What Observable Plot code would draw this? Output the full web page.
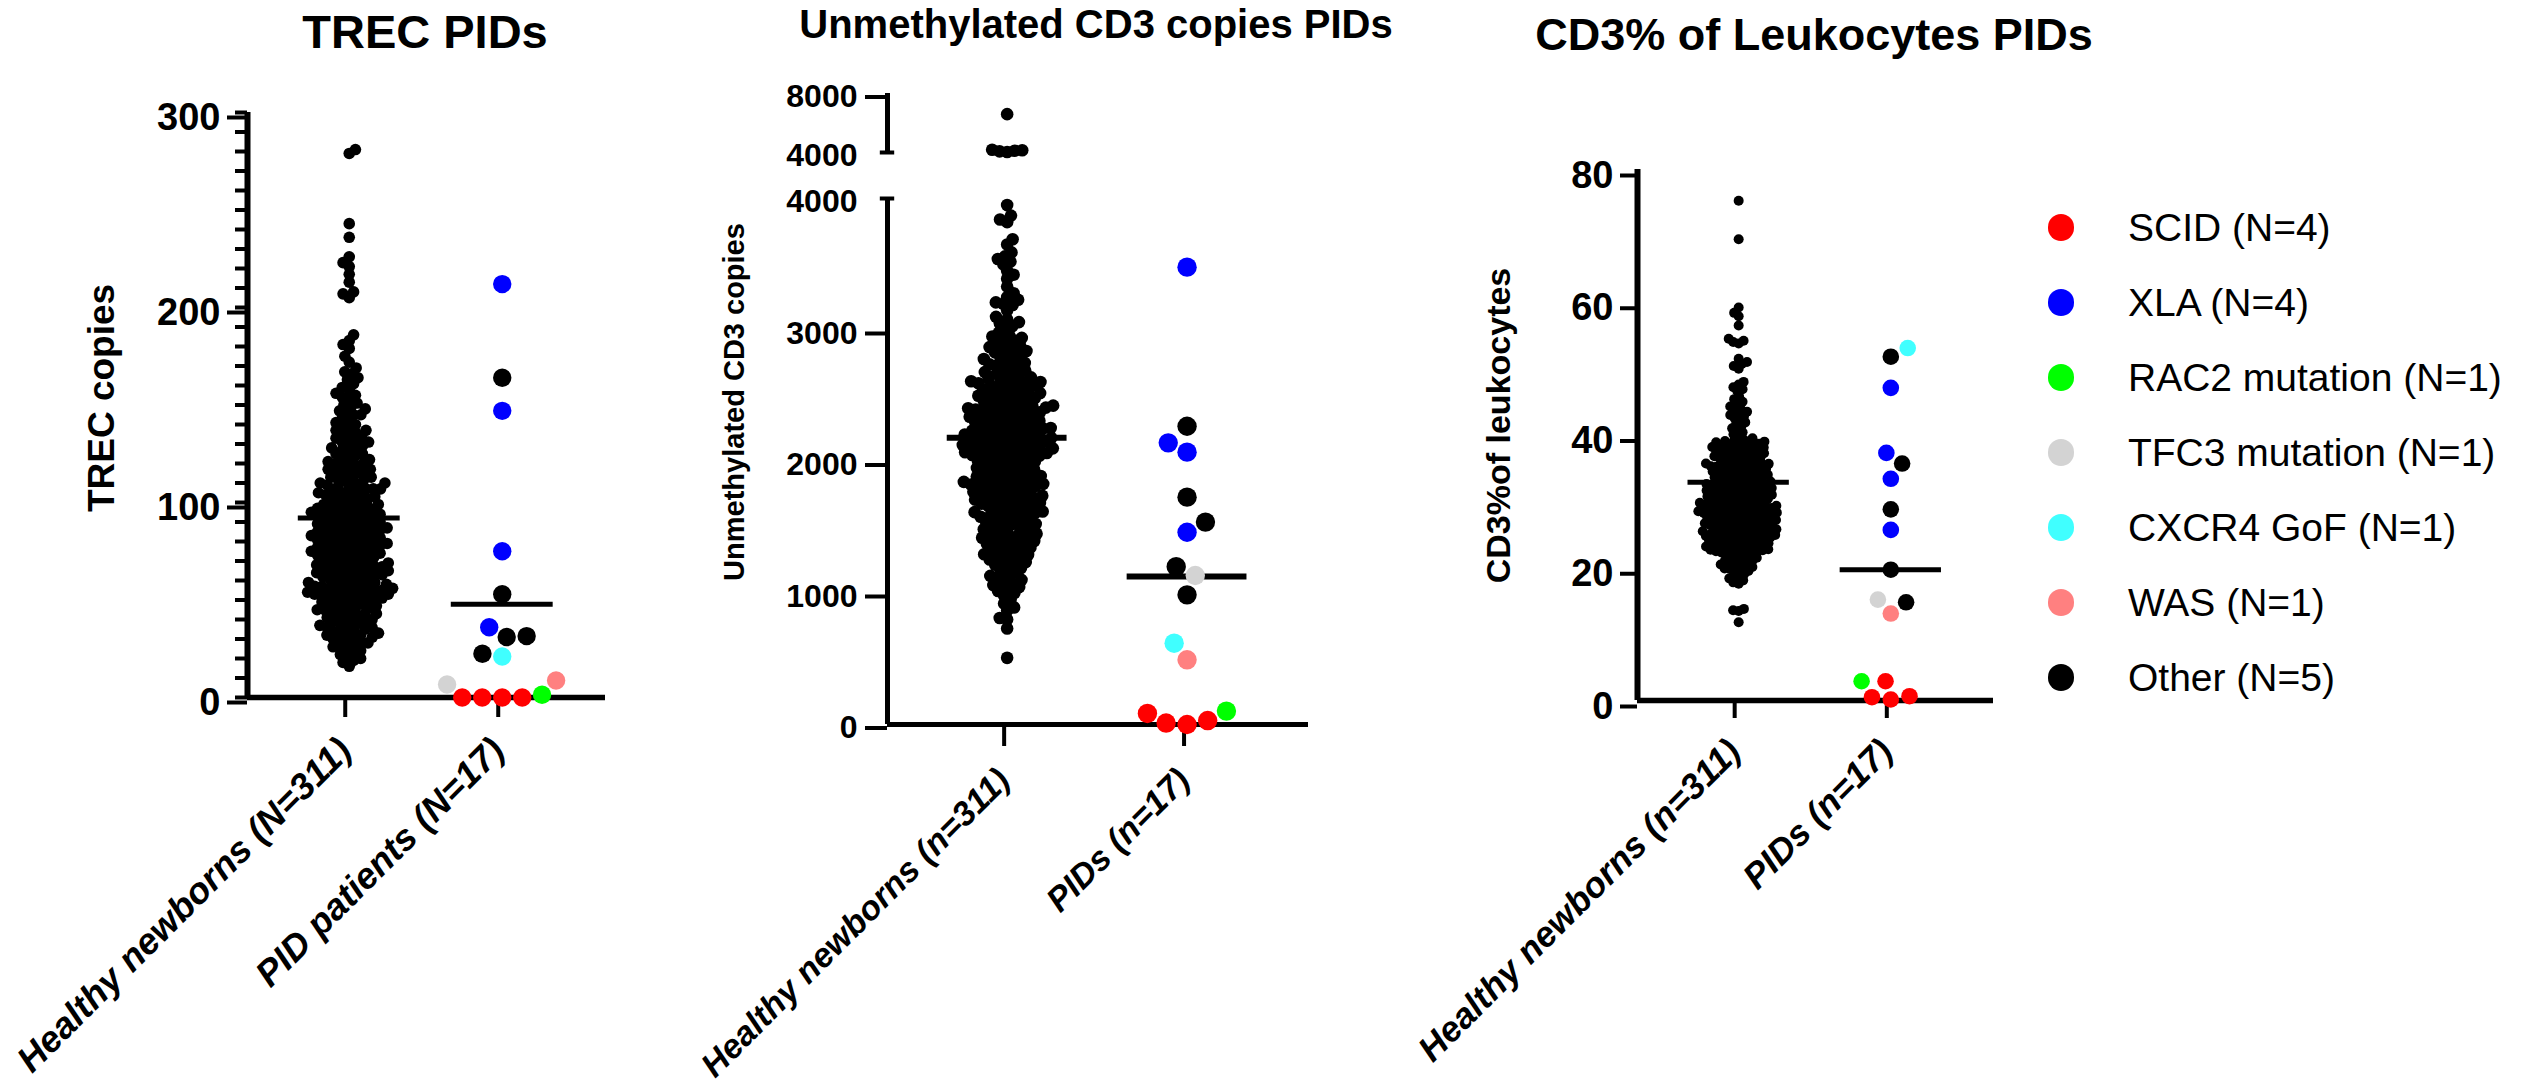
<!DOCTYPE html>
<html>
<head>
<meta charset="utf-8">
<script src="https://cdn.jsdelivr.net/npm/d3@7"></script>
<script src="https://cdn.jsdelivr.net/npm/@observablehq/plot@0.6"></script>
<style>
  html, body { margin: 0; padding: 0; background: #fff; }
  #root { position: relative; width: 2522px; height: 1084px; overflow: hidden;
          font-family: 'Liberation Sans', Arial, Helvetica, sans-serif; color: #000; }
  .panel { position: absolute; top: 0; }
  .title { position: absolute; font-weight: bold; line-height: 1; white-space: nowrap; }
  .lrow { position: absolute; height: 44px; display: flex; align-items: center; white-space: nowrap; font-size: 39px; }
  .ldot { width: 26.6px; height: 26.6px; border-radius: 50%; margin-right: 53.7px; flex: none; }
</style>
</head>
<body>
<div id="root"></div>
<script>
// ---------------- data ----------------
const groupNames = ["SCID", "XLA", "RAC2 mutation", "TFC3 mutation", "CXCR4 GoF", "WAS", "Other"];
const groupColors = ["#FF0000", "#0000FF", "#00FF00", "#D3D3D3", "#40FFFF", "#FF8080", "#000000"];
const legendLabels = ["SCID (N=4)", "XLA (N=4)", "RAC2 mutation (N=1)", "TFC3 mutation (N=1)", "CXCR4 GoF (N=1)", "WAS (N=1)", "Other (N=5)"];
const pidGroup = ["SCID", "SCID", "SCID", "SCID", "XLA", "XLA", "XLA", "XLA", "RAC2 mutation", "TFC3 mutation", "CXCR4 GoF", "WAS", "Other", "Other", "Other", "Other", "Other"];

const titles = ["TREC PIDs", "Unmethylated CD3 copies PIDs", "CD3% of Leukocytes PIDs"];
const yTitles = ["TREC copies", "Unmethylated CD3 copies", "CD3%of leukocytes"];
const trecCats = ["Healthy newborns (N=311)", "PID patients (N=17)"];
const cd3Cats = ["Healthy newborns (n=311)", "PIDs (n=17)"];
const pctCats = ["Healthy newborns (n=311)", "PIDs (n=17)"];

const trecTicks = [0, 100, 200, 300];
const cd3LowTicks = [0, 1000, 2000, 3000];
const cd3TopTicks = [8000];
const cd3BreakTicks = [4000, 4000.5];
const cd3BreakLabel = "4000";
const pctTicks = [0, 20, 40, 60, 80];

const trecHealthy = [
  281, 279, 243, 236, 226, 223, 221, 217, 213, 208, 207, 205,
  186, 183, 181, 179, 175, 172,
  169, 167, 166, 164, 163, 161,
  159, 158, 156, 155, 154, 153, 151, 150,
  149, 148, 147, 146, 145, 145, 143, 142, 141, 140,
  139, 138, 137, 137, 136, 135, 134, 134, 133, 132, 131, 131, 130,
  129, 128, 128, 127, 126, 125, 125, 124, 123, 122, 122, 121, 120, 120,
  119, 119, 118, 117, 117, 116, 116, 115, 115, 114, 113, 113, 112, 112, 111, 111, 110, 110,
  109, 109, 108, 108, 107, 107, 107, 106, 106, 105, 105, 104, 104, 104, 103, 103, 102, 102, 101, 101, 100, 100,
  99, 99, 99, 98, 98, 97, 97, 97, 96, 96, 96, 95, 95, 95, 94, 94, 94, 93, 93, 93, 92, 92, 92, 91, 91, 90, 90, 90,
  89, 89, 89, 88, 88, 88, 87, 87, 87, 86, 86, 86, 85, 85, 85, 84, 84, 84, 83, 83, 83, 82, 82, 82, 81, 81, 81, 80, 80, 80,
  79, 79, 79, 78, 78, 78, 77, 77, 77, 76, 76, 76, 75, 75, 75, 74, 74, 74, 73, 73, 73, 72, 72, 72, 71, 71, 70, 70,
  69, 69, 69, 68, 68, 68, 67, 67, 67, 66, 66, 66, 65, 65, 65, 64, 64, 64, 63, 63, 63, 62, 62, 62, 61, 61, 60, 60,
  59, 59, 59, 58, 58, 58, 57, 57, 57, 56, 56, 56, 56, 55, 55, 55, 54, 54, 54, 53, 53, 53, 53, 52, 52, 52, 51, 51, 51, 50, 50,
  49, 49, 48, 48, 48, 47, 47, 46, 46, 45, 45, 45, 44, 44, 43, 43, 42, 42, 41, 41, 40, 40,
  39, 39, 38, 38, 37, 37, 36, 36, 35, 35, 34, 34, 33, 33, 32, 32, 31, 31, 30, 30,
  29, 28, 28, 27, 26, 26, 25, 24, 23, 22, 21, 20,
  19, 18, 16
];
const trecPid = [0, 0, 0, 0, 212, 147, 75, 36, 1.4, 6.7, 21, 8.7, 164, 53, 31.5, 31, 22.4];
const trecLines = [92, 47.8];

const cd3Healthy = [
  6600,
  4190, 4150, 4120, 4080, 4030,
  3950, 3870, 3840, 3820,
  3690, 3650,
  3590, 3560, 3540, 3520, 3500, 3450, 3420,
  3390, 3330, 3280, 3250, 3230, 3210, 3200,
  3190, 3150, 3100, 3080, 3060, 3050, 3030, 3010,
  2980, 2960, 2950, 2940, 2930, 2920, 2900, 2890, 2880, 2870, 2860, 2850, 2840, 2830, 2820, 2810,
  2790, 2780, 2770, 2760, 2750, 2740, 2730, 2720, 2710, 2700, 2690, 2680, 2670, 2660, 2650, 2640, 2630, 2620, 2615, 2610, 2605, 2600,
  2595, 2590, 2580, 2575, 2570, 2560, 2550, 2545, 2540, 2530, 2520, 2515, 2510, 2500, 2495, 2490, 2480, 2475, 2470, 2460,
  2450, 2445, 2440, 2430, 2425, 2420, 2415, 2410, 2405, 2400,
  2395, 2390, 2385, 2380, 2375, 2370, 2365, 2360, 2350, 2345, 2340, 2335, 2330, 2320, 2315, 2310, 2305, 2300, 2295, 2290,
  2280, 2275, 2270, 2260, 2255, 2250, 2245, 2240, 2235, 2230, 2225, 2220, 2215, 2210, 2205, 2200,
  2195, 2190, 2185, 2180, 2175, 2170, 2165, 2160, 2155, 2150, 2145, 2140, 2135, 2130, 2125, 2120, 2115, 2110, 2105, 2100,
  2095, 2090, 2085, 2080, 2075, 2070, 2065, 2060, 2055, 2050, 2045, 2040, 2035, 2030, 2025, 2020, 2010, 2000,
  1995, 1990, 1980, 1975, 1970, 1960, 1955, 1950, 1940, 1935, 1930, 1920, 1915, 1910, 1900, 1895, 1890, 1880, 1875, 1870,
  1860, 1855, 1850, 1840, 1835, 1830, 1825, 1820, 1815, 1810, 1805, 1800, 1845, 1885,
  1795, 1790, 1780, 1770, 1765, 1760, 1750, 1740, 1735, 1730, 1720, 1710, 1705, 1700, 1690, 1680, 1675, 1670, 1660, 1650,
  1645, 1640, 1630, 1620, 1615, 1610, 1605, 1600, 1725, 1685,
  1595, 1590, 1580, 1570, 1560, 1550, 1540, 1530, 1520, 1510, 1500, 1490, 1480, 1470, 1460, 1450, 1440, 1430, 1420, 1410,
  1400, 1555, 1525, 1485, 1445, 1415,
  1395, 1385, 1375, 1365, 1355, 1345, 1335, 1325, 1315, 1305, 1295, 1285, 1275, 1265, 1255, 1245, 1235, 1225, 1215, 1205,
  1360, 1290,
  1190, 1175, 1160, 1145, 1130, 1115, 1100, 1090, 1075, 1060, 1045, 1030, 1015, 1000,
  980, 950, 920, 890, 867, 810,
  798, 730,
  507
];
const cd3Pid = [11, 30, 84, 0, 3478, 2142, 2071, 1462, 102, 1133, 618, 492, 2268, 1729, 1539, 1200, 986];
const cd3Lines = [2180, 1125];

const pctHealthy = [
  75.3, 69.5, 59.2, 58.4, 57.9, 56.5,
  54.5, 54.2, 54.0, 53.8,
  51.5, 51.0, 50.7, 50.4, 50.0,
  48.0, 47.6, 47.2, 46.9, 46.6,
  45.8, 45.4, 45.0, 44.7,
  44.3, 44.0, 43.8, 43.5, 43.2, 43.0, 42.8, 42.5,
  42.2, 41.9, 41.6, 41.3, 41.0, 40.7, 40.4, 40.1, 39.8, 39.5,
  39.3, 39.2, 39.1, 39.0, 38.9, 38.8, 38.7, 38.6, 38.5, 38.4, 38.3, 38.2, 38.1, 38.0, 37.9, 37.8, 37.7, 37.6, 37.5, 37.4,
  37.3, 37.2, 37.1, 37.0, 36.9, 36.8, 36.7, 36.6, 36.5, 38.85, 38.45, 37.95, 37.25,
  36.4, 36.3, 36.2, 36.1, 36.0, 35.9, 35.8, 35.7, 35.6, 35.5, 35.4, 35.3, 35.2, 35.1, 35.0, 34.9, 34.8, 34.7, 34.6, 34.5,
  34.4, 34.3, 34.2, 34.1, 34.0, 33.9, 33.8, 33.7, 33.6, 33.5, 33.4, 33.3, 33.2, 33.1, 35.65, 35.15, 34.65, 34.15, 33.65, 34.95,
  33.0, 32.9, 32.8, 32.7, 32.6, 32.5, 32.4, 32.3, 32.2, 32.1, 32.0, 31.9, 31.8, 31.7, 31.6, 31.5, 31.4, 31.3, 31.2, 31.1,
  31.0, 30.9, 30.8, 30.7, 30.6, 30.5, 30.4, 30.3, 30.2, 30.1, 32.85, 32.55, 32.25, 31.95, 31.65, 31.35, 31.05, 30.75, 30.45, 30.15,
  32.45, 31.85, 31.25, 30.65, 30.05,
  29.95, 29.9, 29.8, 29.75, 29.7, 29.6, 29.55, 29.5, 29.4, 29.35, 29.3, 29.2, 29.15, 29.1, 29.0, 28.95, 28.9, 28.8, 28.75, 28.7,
  28.6, 28.55, 28.5, 28.4, 28.35, 28.3, 28.2, 28.15, 28.1, 28.0, 27.95, 27.9, 27.8, 27.75, 27.7, 27.6, 27.55, 27.5, 27.4, 27.35,
  27.3, 27.2, 27.15, 27.1, 29.45, 28.65, 27.85, 28.25,
  27.05, 27.0, 26.9, 26.85, 26.8, 26.7, 26.6, 26.55, 26.5, 26.4, 26.3, 26.25, 26.2, 26.1, 26.0, 25.95, 25.9, 25.8, 25.7, 25.65,
  25.6, 25.5, 25.4, 25.35, 25.3, 25.2, 25.1, 25.05, 25.0, 24.9, 24.8, 24.75, 24.7, 24.6, 24.5, 26.45, 25.75, 25.15, 24.95, 24.55,
  24.45, 24.4, 24.3, 24.2, 24.1, 24.0, 23.9, 23.8, 23.7, 23.6, 23.5, 23.4, 23.3, 23.2, 23.1, 23.0, 22.9, 22.8, 22.7, 22.6,
  22.5, 22.4, 22.3, 22.2, 22.1, 24.25, 23.85, 23.45, 23.05, 22.65, 22.25, 23.65, 22.95,
  22.0, 21.8, 21.6, 21.5, 21.3, 21.1, 21.0, 20.8, 20.6, 20.5, 20.3, 20.1, 20.0, 19.9, 19.8, 19.7, 21.2, 20.7,
  19.5, 19.2, 19.0, 18.7, 18.4, 18.1, 17.8, 17.6,
  13.8, 13.6, 13.5, 11.8
];
const pctPid = [0.15, 0.65, 0.5, 2.9, 47.1, 37.3, 33.4, 25.7, 2.9, 15.2, 53.1, 13.1, 51.8, 35.7, 28.8, 19.7, 14.8];
const pctLines = [32.9, 19.7];

// ---------------- helpers ----------------
const FONT = "'Liberation Sans', Arial, Helvetica, sans-serif";
const X_DOMAIN = [-0.665, 1.675];
const root = document.getElementById("root");

// Beeswarm layout (pixel space) run as a Plot initializer after the scales exist.
function swarm(D, options) {
  return Plot.initializer(options, (data, facets, channels, scales) => {
    const XV = channels.x.value, YV = channels.y.value;
    const n = XV.length;
    const X = new Float64Array(n);
    const F = facets || [d3.range(n)];
    for (const I of F) {
      const groups = d3.group(Array.from(I), i => XV[i]);
      for (const G of groups.values()) {
        const order = G.slice().sort((a, b) => YV[a] - YV[b]);
        const placed = [];
        let left = 0, right = 0;
        for (const i of order) {
          const cx = scales.x(XV[i]), cy = scales.y(YV[i]);
          const blocks = [];
          for (const p of placed) {
            const dy = p.y - cy;
            if (Math.abs(dy) < D) {
              const w = Math.sqrt(D * D - dy * dy);
              blocks.push([p.x - w, p.x + w]);
            }
          }
          const cands = [cx];
          for (const [a, b] of blocks) cands.push(a, b);
          let best = cx, bestD = Infinity;
          for (const c of cands) {
            if (blocks.some(([a, b]) => c > a + 1e-6 && c < b - 1e-6)) continue;
            const d = Math.abs(c - cx);
            const prefer = left <= right ? c <= cx : c >= cx;
            if (d < bestD - 1e-6 || (Math.abs(d - bestD) <= 1e-6 && prefer)) { best = c; bestD = d; }
          }
          if (best < cx - 1e-6) left++; else if (best > cx + 1e-6) right++;
          X[i] = best;
          placed.push({x: best, y: cy});
        }
      }
    }
    return {data, facets, channels: {x: {value: X}}};
  });
}

function rows(healthy, pid, lines) {
  return {
    healthy: healthy.map(v => ({cat: 0, value: v})),
    pids: pid.map((v, i) => ({cat: 1, value: v, group: pidGroup[i]})),
    lines: lines.map((v, i) => ({cat: i, value: v}))
  };
}

function place(svg, left) {
  const div = document.createElement("div");
  div.className = "panel";
  div.style.left = left + "px";
  div.appendChild(svg);
  root.appendChild(div);
}

function addTitle(text, opts) {
  const t = document.createElement("div");
  t.className = "title";
  t.textContent = text;
  t.style.fontSize = opts.size + "px";
  t.style.top = opts.top + "px";
  t.style.left = opts.left + "px";
  if (opts.center) t.style.transform = "translateX(-50%)";
  root.appendChild(t);
}

function yTitle(text, opts) {
  return Plot.text([text], {text: t => t, frameAnchor: "left", textAnchor: "middle", lineAnchor: "middle",
    rotate: -90, dx: opts.dx, dy: opts.dy, fontSize: opts.size, fontWeight: "bold"});
}

const color = {domain: groupNames, range: groupColors};
const baseStyle = {fontFamily: FONT, background: "transparent", overflow: "visible", color: "#000"};

// ---------------- panel 1: TREC ----------------
{
  const d = rows(trecHealthy, trecPid, trecLines);
  const svg = Plot.plot({
    width: 640, height: 1084,
    marginLeft: 247, marginRight: 35, marginTop: 112, marginBottom: 387,
    x: {domain: X_DOMAIN, axis: null},
    y: {domain: [0, 300], axis: null},
    color,
    style: baseStyle,
    marks: [
      Plot.ruleX([X_DOMAIN[0]], {y1: 0, y2: 300, strokeWidth: 6}),
      Plot.ruleY([0], {strokeWidth: 5.5}),
      Plot.axisY(d3.range(0, 301, 10), {tickSize: 12, strokeWidth: 4, tickFormat: () => "", label: null}),
      Plot.axisY(trecTicks, {tickSize: 20, tickPadding: 7, strokeWidth: 4, fontSize: 38, fontWeight: "bold",
        dy: 5, tickFormat: d3.format("d"), label: null}),
      Plot.axisX([0, 1], {tickSize: 20, strokeWidth: 4, tickFormat: i => trecCats[i], tickRotate: -45,
        textAnchor: "end", lineAnchor: "middle", tickPadding: 27, dx: -4,
        fontSize: 36.5, fontWeight: "bold", fontStyle: "italic", label: null}),
      yTitle(yTitles[0], {dx: -145, dy: -7, size: 37}),
      Plot.dot(d.healthy, swarm(7.3, {x: "cat", y: "value", r: 5.8, fill: "black"})),
      Plot.ruleY(d.lines, {y: "value", x1: l => l.cat - 0.333, x2: l => l.cat + 0.333, strokeWidth: 5}),
      Plot.dot(d.pids, swarm(20, {x: "cat", y: "value", r: 9.2, fill: "group"}))
    ]
  });
  place(svg, 0);
  addTitle(titles[0], {size: 47, top: 8, left: 425, center: true});
}

// ---------------- panel 2: unmethylated CD3 copies (broken axis) ----------------
{
  const d = rows(cd3Healthy, cd3Pid, cd3Lines);
  const svg = Plot.plot({
    width: 700, height: 1084,
    marginLeft: 247, marginRight: 32, marginTop: 93, marginBottom: 360,
    x: {domain: X_DOMAIN, axis: null},
    y: {type: "linear", domain: [0, 4000, 4000.5, 8000], range: [724, 198, 152, 93], axis: null},
    color,
    style: baseStyle,
    marks: [
      Plot.ruleX([X_DOMAIN[0]], {y1: 0, y2: 4000, strokeWidth: 5}),
      Plot.ruleX([X_DOMAIN[0]], {y1: 4000.5, y2: 8000, strokeWidth: 5}),
      Plot.ruleY(cd3BreakTicks, {x1: X_DOMAIN[0] - 0.04, x2: X_DOMAIN[0] + 0.04, strokeWidth: 4}),
      Plot.ruleY([0], {strokeWidth: 5}),
      Plot.axisY(cd3LowTicks.concat(cd3TopTicks), {tickSize: 22, tickPadding: 8, strokeWidth: 4, fontSize: 32,
        fontWeight: "bold", dy: 3.5, tickFormat: d3.format("d"), label: null}),
      Plot.axisY(cd3BreakTicks, {tickSize: 0, tickPadding: 30, fontSize: 32, fontWeight: "bold", dy: 3.5,
        tickFormat: () => cd3BreakLabel, label: null}),
      Plot.axisX([0, 1], {tickSize: 22, strokeWidth: 4, tickFormat: i => cd3Cats[i], tickRotate: -45,
        textAnchor: "end", lineAnchor: "middle", tickPadding: 28, dx: -3,
        fontSize: 34, fontWeight: "bold", fontStyle: "italic", label: null}),
      yTitle(yTitles[1], {dx: -153, dy: -7, size: 29}),
      Plot.dot(d.healthy, swarm(7.6, {x: "cat", y: "value", r: 6.3, fill: "black"})),
      Plot.ruleY(d.lines, {y: "value", x1: l => l.cat - 0.333, x2: l => l.cat + 0.333, strokeWidth: 6}),
      Plot.dot(d.pids, swarm(21, {x: "cat", y: "value", r: 9.7, fill: "group"}))
    ]
  });
  place(svg, 640);
  addTitle(titles[1], {size: 40, top: 4, left: 1096, center: true});
}

// ---------------- panel 3: CD3% of leukocytes ----------------
{
  const d = rows(pctHealthy, pctPid, pctLines);
  const svg = Plot.plot({
    width: 690, height: 1084,
    marginLeft: 297, marginRight: 37, marginTop: 169, marginBottom: 384,
    x: {domain: X_DOMAIN, axis: null},
    y: {domain: [0, 80], axis: null},
    color,
    style: baseStyle,
    marks: [
      Plot.ruleX([X_DOMAIN[0]], {y1: 0, y2: 80, strokeWidth: 6}),
      Plot.ruleY([0], {strokeWidth: 5.5}),
      Plot.axisY(pctTicks, {tickSize: 17, tickPadding: 7, strokeWidth: 4, fontSize: 38, fontWeight: "bold",
        dy: 6, tickFormat: d3.format("d"), label: null}),
      Plot.axisX([0, 1], {tickSize: 18, strokeWidth: 4, tickFormat: i => pctCats[i], tickRotate: -45,
        textAnchor: "end", lineAnchor: "middle", tickPadding: 27, dx: -4,
        fontSize: 35.5, fontWeight: "bold", fontStyle: "italic", label: null}),
      yTitle(yTitles[2], {dx: -138, dy: -9.5, size: 34}),
      Plot.dot(d.healthy, swarm(5.6, {x: "cat", y: "value", r: 5, fill: "black"})),
      Plot.ruleY(d.lines, {y: "value", x1: l => l.cat - 0.333, x2: l => l.cat + 0.333, strokeWidth: 5}),
      Plot.dot(d.pids, swarm(19, {x: "cat", y: "value", r: 8.3, fill: "group"}))
    ]
  });
  place(svg, 1340);
  addTitle(titles[2], {size: 45, top: 12, left: 1814, center: true});
}

// ---------------- legend ----------------
legendLabels.forEach((label, k) => {
  const row = document.createElement("div");
  row.className = "lrow";
  row.style.left = "2047.7px";
  row.style.top = (227.7 + k * 75 - 22) + "px";
  const dot = document.createElement("span");
  dot.className = "ldot";
  dot.style.background = groupColors[k];
  const txt = document.createElement("span");
  txt.textContent = label;
  row.appendChild(dot);
  row.appendChild(txt);
  root.appendChild(row);
});
</script>
</body>
</html>
